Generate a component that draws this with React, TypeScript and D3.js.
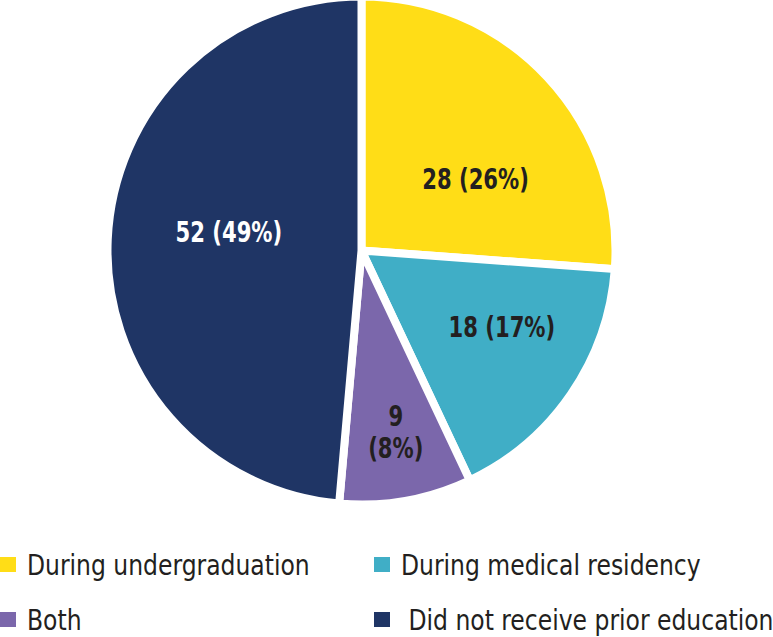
import React from "react";
import * as d3 from "d3";

const categories = [
  "During undergraduation",
  "During medical residency",
  "Both",
  "Did not receive prior education",
];
const counts = [28, 18, 9, 52];
const percents = [26, 17, 8, 49];
const colors = ["#FFDD17", "#40AEC6", "#7B67AB", "#1F3565"];
const labelColors = ["#231F20", "#231F20", "#231F20", "#FFFFFF"];

const width = 773;
const height = 637;
const cx = 361.5;
const cy = 250.5;
const radius = 254;
const gap = 8;

const labelFont = "'DejaVu Sans Condensed', 'DejaVu Sans', sans-serif";

// hand-placed label nudges (px) on top of the slice centroids
const labelNudge: [number, number][] = [
  [8, 27],
  [21, -5],
  [0, -8],
  [12, -12],
];

const App = () => {
  const pie = d3
    .pie<number>()
    .sort(null)
    .value((d) => d);
  const arcs = pie(counts);

  const arc = d3.arc<d3.PieArcDatum<number>>().innerRadius(0).outerRadius(radius);

  // narrow slices get their label pushed further out and split over two lines
  const isNarrow = (a: d3.PieArcDatum<number>) => a.endAngle - a.startAngle < 0.6;
  const labelPos = (a: d3.PieArcDatum<number>) => {
    const r = isNarrow(a) ? radius * 0.77 : radius * 0.57;
    return d3.arc<d3.PieArcDatum<number>>().innerRadius(r).outerRadius(r).centroid(a);
  };

  const legendCols = [0, 374];
  const legendRows = [575, 630];

  return (
    <svg
      width={width}
      height={height}
      style={{ position: "absolute", left: 0, top: 0, background: "#fff" }}
    >
      <g transform={`translate(${cx},${cy})`}>
        {arcs.map((a, i) => (
          <path
            key={categories[i]}
            d={arc(a) || ""}
            fill={colors[i]}
            stroke="#fff"
            strokeWidth={gap}
            strokeLinejoin="miter"
          />
        ))}
        {arcs.map((a, i) => {
          const [px, py] = labelPos(a);
          const x = px + labelNudge[i][0];
          const y = py + labelNudge[i][1];
          const style = {
            fontFamily: labelFont,
            fontWeight: 700,
            fontSize: 29,
            fill: labelColors[i],
          };
          if (isNarrow(a)) {
            return (
              <text
                key={"l" + i}
                transform={`translate(${x},${y}) scale(0.81,1)`}
                textAnchor="middle"
                style={style}
              >
                <tspan x={0} dy={-9}>{counts[i]}</tspan>
                <tspan x={0} dy={32}>{`(${percents[i]}%)`}</tspan>
              </text>
            );
          }
          return (
            <text
              key={"l" + i}
              transform={`translate(${x},${y + 10}) scale(0.81,1)`}
              textAnchor="middle"
              style={style}
            >
              {`${counts[i]} (${percents[i]}%)`}
            </text>
          );
        })}
      </g>
      <g>
        {categories.map((c, i) => {
          const col = legendCols[i % 2];
          const row = legendRows[Math.floor(i / 2)];
          return (
            <g key={"lg" + c} transform={`translate(${col},${row})`}>
              <rect x={0} y={-18} width={16} height={15} fill={colors[i]} />
              <text
                transform="translate(27,0) scale(0.9,1)"
                style={{ fontFamily: labelFont, fontSize: 29, fill: "#231F20" }}
              >
                {i === 3 ? "\u00a0" + c : c}
              </text>
            </g>
          );
        })}
      </g>
    </svg>
  );
};

export default App;
